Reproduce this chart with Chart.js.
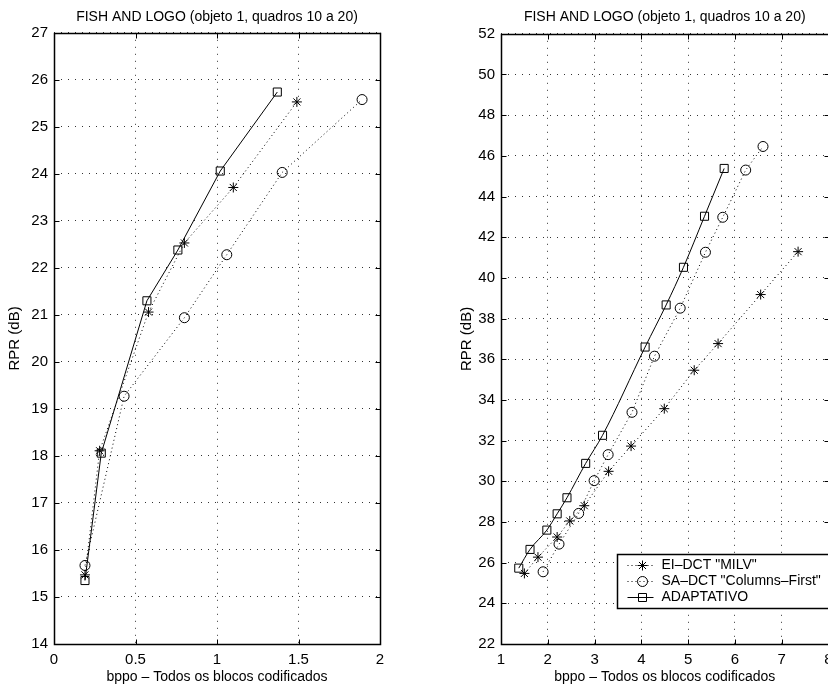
<!DOCTYPE html>
<html>
<head>
<meta charset="utf-8">
<script src="https://cdn.jsdelivr.net/npm/chart.js@4.4.1/dist/chart.umd.min.js"></script>
<style>
  html, body { margin: 0; padding: 0; background: #fff; overflow: hidden; }
  #wrap { position: relative; width: 828px; height: 688px; overflow: hidden; }
  canvas { position: absolute; top: 0; }
  #chartLeft { left: 0; }
  #chartRight { left: 420px; }
</style>
</head>
<body>
<div id="wrap">
  <canvas id="chartLeft" width="420" height="688"></canvas>
  <canvas id="chartRight" width="420" height="688"></canvas>
</div>
<script>
const plotTitle = 'FISH AND LOGO (objeto 1, quadros 10 a 20)';
const xTitle = 'bppo – Todos os blocos codificados';
const yTitle = 'RPR (dB)';
const seriesNames = ['EI–DCT "MILV"', 'SA–DCT "Columns–First"', 'ADAPTATIVO'];

// left panel
const leftBppoMilv = [0.19, 0.28, 0.58, 0.80, 1.10, 1.49];
const leftRprMilv  = [15.47, 18.11, 21.06, 22.53, 23.71, 25.53];
const leftBppoSa   = [0.19, 0.43, 0.80, 1.06, 1.40, 1.89];
const leftRprSa    = [15.67, 19.27, 20.94, 22.28, 24.03, 25.58];
const leftBppoAd   = [0.19, 0.29, 0.57, 0.76, 1.02, 1.37];
const leftRprAd    = [15.35, 18.06, 21.30, 22.38, 24.06, 25.74];

// right panel
const rightBppoMilv = [1.50, 1.79, 2.20, 2.47, 2.78, 3.30, 3.78, 4.49, 5.13, 5.64, 6.55, 7.35];
const rightRprMilv  = [25.47, 26.27, 27.26, 28.05, 28.80, 30.49, 31.73, 33.57, 35.46, 36.77, 39.18, 41.29];
const rightBppoSa   = [1.90, 2.24, 2.66, 2.99, 3.29, 3.80, 4.28, 4.83, 5.37, 5.74, 6.23, 6.60];
const rightRprSa    = [25.55, 26.91, 28.42, 30.03, 31.31, 33.39, 36.15, 38.51, 41.26, 42.98, 45.30, 46.46];
const rightBppoAd   = [1.38, 1.62, 1.98, 2.20, 2.41, 2.81, 3.17, 4.08, 4.53, 4.90, 5.35, 5.77];
const rightRprAd    = [25.73, 26.65, 27.60, 28.40, 29.19, 30.88, 32.26, 36.60, 38.67, 40.52, 43.03, 45.38];

const font = 'Liberation Sans, Arial, Helvetica, sans-serif';

function pts(xs, ys) {
  return xs.map((x, i) => ({ x: x, y: ys[i] }));
}

function series(label, data, style, radius, dash, smooth) {
  return {
    label: label,
    data: data,
    borderColor: '#000',
    borderWidth: 1,
    borderDash: dash,
    backgroundColor: 'rgba(0,0,0,0)',
    pointStyle: style,
    pointRadius: radius,
    pointBorderColor: '#000',
    pointBackgroundColor: 'rgba(0,0,0,0)',
    pointBorderWidth: 1,
    fill: false,
    cubicInterpolationMode: smooth ? 'monotone' : 'default',
    tension: 0
  };
}

// box around the axes plus small inward tick marks on all four sides
const framePlugin = {
  id: 'frame',
  afterDraw(chart) {
    const { ctx, chartArea: a } = chart;
    const xs = chart.scales.x, ys = chart.scales.y;
    const l = Math.round(a.left) + 0.5, r = Math.round(a.right) + 0.5;
    const t = Math.round(a.top) + 0.5, b = Math.round(a.bottom) + 0.5;
    ctx.save();
    ctx.strokeStyle = '#000';
    ctx.lineWidth = 1;
    ctx.beginPath();
    xs.ticks.forEach(tk => {
      const px = Math.round(xs.getPixelForValue(tk.value)) + 0.5;
      ctx.moveTo(px, b); ctx.lineTo(px, b - 5);
      ctx.moveTo(px, t); ctx.lineTo(px, t + 5);
    });
    ys.ticks.forEach(tk => {
      const py = Math.round(ys.getPixelForValue(tk.value)) + 0.5;
      ctx.moveTo(l, py); ctx.lineTo(l + 5, py);
      ctx.moveTo(r, py); ctx.lineTo(r - 5, py);
    });
    ctx.stroke();
    ctx.lineWidth = 1.5;
    ctx.strokeRect(l, t, r - l, b - t);
    ctx.restore();
  }
};

function drawMarker(ctx, style, x, y) {
  ctx.beginPath();
  if (style === 'star') {
    const r = 5, d = r * Math.SQRT1_2;
    ctx.moveTo(x - r, y); ctx.lineTo(x + r, y);
    ctx.moveTo(x, y - r); ctx.lineTo(x, y + r);
    ctx.moveTo(x - d, y - d); ctx.lineTo(x + d, y + d);
    ctx.moveTo(x - d, y + d); ctx.lineTo(x + d, y - d);
  } else if (style === 'circle') {
    ctx.arc(x, y, 5, 0, Math.PI * 2);
  } else {
    ctx.rect(x - 4, y - 4, 8, 8);
  }
  ctx.stroke();
}

// legend drawn inside the lower right corner of the plot
const insideLegend = {
  id: 'insideLegend',
  afterDraw(chart) {
    const { ctx, chartArea: a } = chart;
    const left = Math.round(a.left + 116) + 0.5;
    const top = Math.round(a.bottom - 90) + 0.5;
    const w = 240, h = 54;
    const styles = ['star', 'circle', 'rect'];
    const dashes = [[1, 3], [1, 3], []];
    ctx.save();
    ctx.fillStyle = '#fff';
    ctx.fillRect(left, top, w, h);
    ctx.strokeStyle = '#000';
    ctx.lineWidth = 1.5;
    ctx.strokeRect(left, top, w, h);
    ctx.lineWidth = 1;
    ctx.font = '14px ' + font;
    ctx.textBaseline = 'middle';
    ctx.fillStyle = '#000';
    seriesNames.forEach((name, i) => {
      const y = top + 11 + i * 16;
      ctx.setLineDash(dashes[i]);
      ctx.beginPath();
      ctx.moveTo(left + 10, y); ctx.lineTo(left + 36, y);
      ctx.stroke();
      ctx.setLineDash([]);
      drawMarker(ctx, styles[i], left + 25, y);
      ctx.fillText(name, left + 44, y);
    });
    ctx.restore();
  }
};

function makeChart(canvasId, datasets, xr, yr, yTitlePad, yAxisWidth, padRight, titlePad, withLegend) {
  const tickFont = { family: font, size: 15 };
  const fmt = v => String(+Number(v).toFixed(2));
  const grid = { color: '#333', lineWidth: 1, drawTicks: false };
  const border = { display: false, dash: [1, 6] };
  return new Chart(document.getElementById(canvasId), {
    type: 'scatter',
    data: { datasets: datasets },
    options: {
      responsive: false,
      animation: false,
      showLine: true,
      layout: { padding: { left: 0, right: padRight, top: 0, bottom: 0 } },
      plugins: {
        legend: { display: false },
        tooltip: { enabled: false },
        title: {
          display: true,
          text: plotTitle,
          fullSize: false,
          color: '#000',
          font: { family: font, size: 14, weight: 'normal' },
          padding: titlePad
        }
      },
      scales: {
        x: {
          type: 'linear',
          min: xr[0], max: xr[1],
          grid: grid,
          border: border,
          ticks: { color: '#000', font: tickFont, stepSize: xr[2], padding: 7, callback: fmt },
          title: { display: true, text: xTitle, color: '#000', font: { family: font, size: 14 }, padding: { top: 0, bottom: 2 } },
          afterFit: s => { s.height = 44; }
        },
        y: {
          type: 'linear',
          min: yr[0], max: yr[1],
          grid: grid,
          border: border,
          ticks: { color: '#000', font: tickFont, stepSize: yr[2], padding: 6, callback: fmt },
          title: { display: true, text: yTitle, color: '#000', font: { family: font, size: 15 }, padding: { top: yTitlePad, bottom: 0 } },
          afterFit: s => { s.width = yAxisWidth; }
        }
      }
    },
    plugins: withLegend ? [framePlugin, insideLegend] : [framePlugin]
  });
}

makeChart('chartLeft', [
  series(seriesNames[0], pts(leftBppoMilv, leftRprMilv), 'star', 5, [1, 3], false),
  series(seriesNames[1], pts(leftBppoSa, leftRprSa), 'circle', 5, [1, 3], false),
  series(seriesNames[2], pts(leftBppoAd, leftRprAd), 'rect', 5.7, [], false)
], [0, 2, 0.5], [14, 27, 1], 6, 54, 40, { top: 9, bottom: 7 }, false);

makeChart('chartRight', [
  series(seriesNames[0], pts(rightBppoMilv, rightRprMilv), 'star', 5, [1, 3], false),
  series(seriesNames[1], pts(rightBppoSa, rightRprSa), 'circle', 5, [1, 3], false),
  series(seriesNames[2], pts(rightBppoAd, rightRprAd), 'rect', 5.7, [], true)
], [1, 8, 1], [22, 52, 2], 38, 81, 11.5, { top: 9, bottom: 8 }, true);
</script>
</body>
</html>
